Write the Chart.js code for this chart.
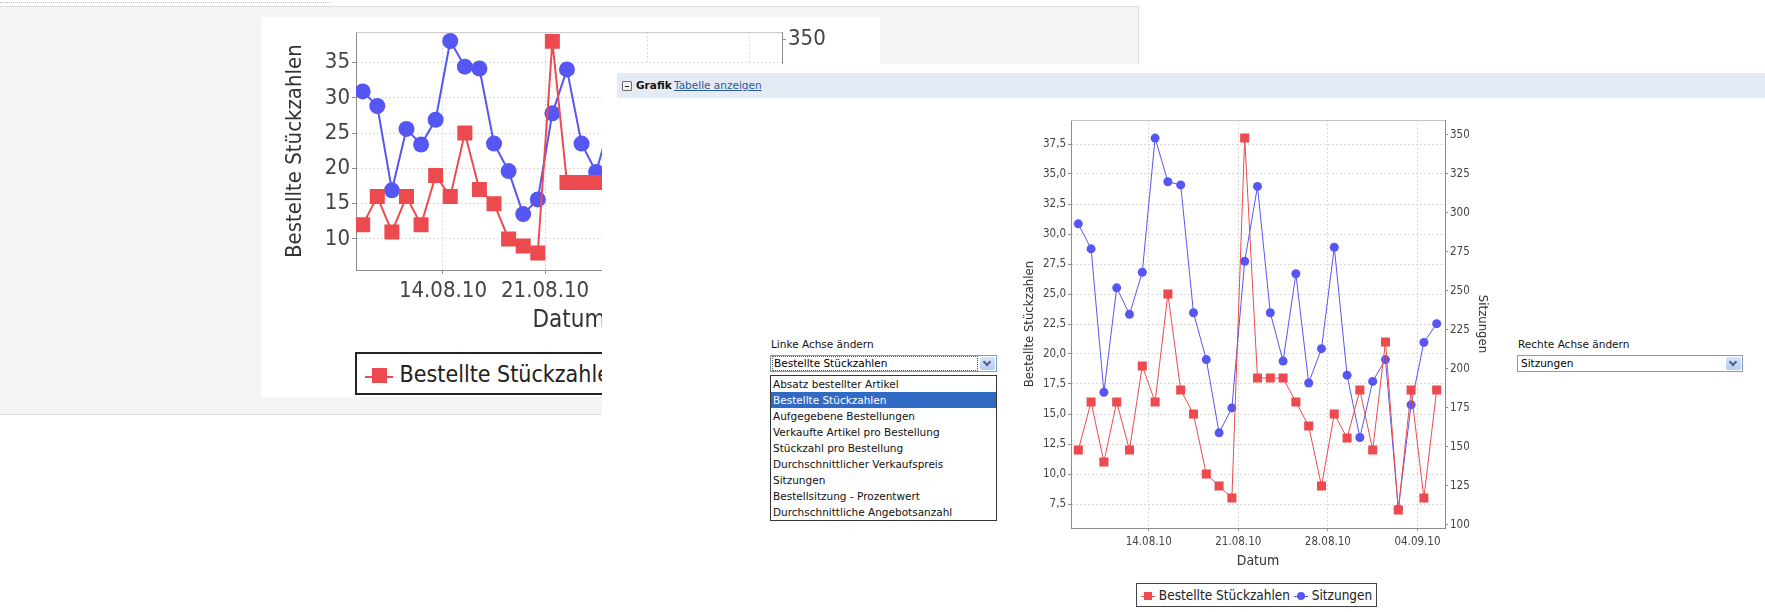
<!DOCTYPE html>
<html>
<head>
<meta charset="utf-8">
<script src="https://cdn.jsdelivr.net/npm/chart.js@4.4.1/dist/chart.umd.min.js"></script>
<style>
  html, body { margin: 0; padding: 0; background: #fff; width: 1765px; height: 612px; overflow: hidden; }
  body { position: relative; font-family: "DejaVu Sans", Verdana, sans-serif; }
  .abs { position: absolute; }
  #toplink { left: 0; top: 0; width: 330px; height: 2px; border-bottom: 1px dotted #a9c3e6; }
  #page { left: 0; top: 6px; width: 1138px; height: 407px; background: #f4f4f4; border: 1px solid #dcdcdc; border-left: none; }
  #bgwhite { left: 261px; top: 17px; width: 619px; height: 380px; background: #fff; }
  #bgCanvas { left: 270px; top: 17px; }
  #overlay { left: 602px; top: 64px; width: 1163px; height: 548px; background: #fff; }
  #header { left: 617px; top: 73px; width: 1148px; height: 25px; background: #e5ebf5; font-size: 10.5px; line-height: 25px; }
  #header .box { position: absolute; left: 5px; top: 8px; width: 8px; height: 8px; border: 1px solid #6d6d6d; border-radius: 1px; background: #f0f0f0; }
  #header .box i { position: absolute; left: 2px; top: 3.5px; width: 4px; height: 1px; background: #222; }
  #header b { position: absolute; left: 19px; color: #111; }
  #header a { position: absolute; left: 57px; color: #2a5a9a; text-decoration: underline; }
  .lbl { font-size: 10.5px; color: #111; }
  .sel { height: 17px; border: 1px solid #7f9db9; background: #fff; font-size: 10.5px; line-height: 17px; box-sizing: border-box; }
  .sel .txt { position: absolute; left: 2px; top: 1px; right: 19px; height: 13px; line-height: 13px; padding-left: 1px; }
  .sel .txt.focus { outline: 1px dotted #555; }
  .sel .btn { position: absolute; right: 1px; top: 1px; width: 15px; height: 13px; background: linear-gradient(#d8e4fb, #b6cbf4); border-radius: 2px; }
  .sel .btn i { position: absolute; left: 4px; top: 2px; width: 4px; height: 4px; border-right: 2px solid #4d6185; border-bottom: 2px solid #4d6185; transform: rotate(45deg); }
  #list { left: 770px; top: 375px; width: 227px; height: 146px; border: 1px solid #333; box-sizing: border-box; background: #fff; font-size: 10.5px; }
  #list div { height: 16px; line-height: 16px; padding-left: 2px; color: #111; white-space: nowrap; }
  #list div.on { background: #316ac5; color: #fff; }
  #mainCanvas { left: 1015px; top: 110px; }
  .legend { border: 1px solid #444; background: #fff; white-space: nowrap; color: #222; box-sizing: border-box;
            font-family: "DejaVu Sans Condensed", "Liberation Sans Narrow", "Liberation Sans", sans-serif; }
  .mk { display: inline-block; position: relative; vertical-align: middle; }
  .mk .ln { position: absolute; left: 0; right: 0; top: 50%; height: 1px; }
  .mk .pt { position: absolute; left: 50%; top: 50%; }
</style>
</head>
<body>
<div id="toplink" class="abs"></div>
<div id="page" class="abs"></div>
<div id="bgwhite" class="abs"></div>
<canvas id="bgCanvas" class="abs" width="572" height="320"></canvas>
<div id="legBg" class="abs legend" style="left:355px;top:352px;height:43px;line-height:41px;font-size:23px;padding:0 8px;border-width:2px;border-color:#222;">
  <span class="mk" style="width:28px;height:16px;"><i class="ln" style="background:#ec4a4e;height:2px;"></i><i class="pt" style="width:15px;height:15px;margin:-7.5px 0 0 -7.5px;background:#ec4a4e;"></i></span>
  Bestellte Stückzahlen
  <span class="mk" style="width:28px;height:16px;"><i class="ln" style="background:#5656f2;height:2px;"></i><i class="pt" style="width:15px;height:15px;margin:-7.5px 0 0 -7.5px;background:#5656f2;border-radius:50%;"></i></span>
  Sitzungen
</div>

<div id="overlay" class="abs"></div>
<div id="header" class="abs"><span class="box"><i></i></span><b>Grafik</b><a>Tabelle anzeigen</a></div>

<div class="abs lbl" style="left:771px;top:338px;">Linke Achse ändern</div>
<div class="abs sel" style="left:770px;top:355px;width:227px;"><span class="txt focus">Bestellte Stückzahlen</span><span class="btn"><i></i></span></div>
<div id="list" class="abs"></div>

<div class="abs lbl" style="left:1518px;top:338px;">Rechte Achse ändern</div>
<div class="abs sel" style="left:1517px;top:355px;width:226px;"><span class="txt">Sitzungen</span><span class="btn"><i></i></span></div>

<canvas id="mainCanvas" class="abs" width="480" height="462"></canvas>
<div id="legMain" class="abs legend" style="left:1136px;top:583px;height:24px;line-height:22px;font-size:13.5px;padding:0 4px;">
  <span class="mk" style="width:14px;height:10px;"><i class="ln" style="background:#ec4a4e;"></i><i class="pt" style="width:8px;height:8px;margin:-4px 0 0 -4px;background:#ec4a4e;"></i></span>
  Bestellte Stückzahlen
  <span class="mk" style="width:14px;height:10px;"><i class="ln" style="background:#5656f2;"></i><i class="pt" style="width:8px;height:8px;margin:-4px 0 0 -4px;background:#5656f2;border-radius:50%;"></i></span>
  Sitzungen
</div>

<script>
// one point per day, 08.08.10 .. 05.09.10
const dayLabels = [
  "08.08.10", "09.08.10", "10.08.10", "11.08.10", "12.08.10", "13.08.10", "14.08.10",
  "15.08.10", "16.08.10", "17.08.10", "18.08.10", "19.08.10", "20.08.10", "21.08.10",
  "22.08.10", "23.08.10", "24.08.10", "25.08.10", "26.08.10", "27.08.10", "28.08.10",
  "29.08.10", "30.08.10", "31.08.10", "01.09.10", "02.09.10", "03.09.10", "04.09.10",
  "05.09.10",
];
const bestellteStueckzahlen = [12, 16, 11, 16, 12, 19, 16, 25, 17, 15, 10, 9, 8, 38, 18, 18, 18, 16, 14, 9, 15, 13, 17, 12, 21, 7, 17, 8, 17];
const sitzungen = [293, 277, 185, 252, 235, 262, 348, 320, 318, 236, 206, 159, 175, 269, 317, 236, 205, 261, 191, 213, 278, 196, 156, 192, 206, 110, 177, 217, 229];

// x axis: days after 08.08.10 00:00, points sit at noon
const xTickDays = [6, 13, 20, 27];
const xTickLabels = ["14.08.10", "21.08.10", "28.08.10", "04.09.10"];

const leftTicksMain = [7.5, 10, 12.5, 15, 17.5, 20, 22.5, 25, 27.5, 30, 32.5, 35, 37.5];
const leftTicksBg = [10, 15, 20, 25, 30, 35];
const rightTicks = [100, 125, 150, 175, 200, 225, 250, 275, 300, 325, 350];

const leftOptions = [
  "Absatz bestellter Artikel",
  "Bestellte Stückzahlen",
  "Aufgegebene Bestellungen",
  "Verkaufte Artikel pro Bestellung",
  "Stückzahl pro Bestellung",
  "Durchschnittlicher Verkaufspreis",
  "Sitzungen",
  "Bestellsitzung - Prozentwert",
  "Durchschnittliche Angebotsanzahl",
];
const selectedLeft = "Bestellte Stückzahlen";

const RED = "#ec4a4e";
const BLUE = "#5656f2";
const FONT = '"DejaVu Sans Condensed", "Liberation Sans Narrow", "Liberation Sans", sans-serif';

document.getElementById("list").innerHTML = leftOptions
  .map((name) => `<div${name === selectedLeft ? ' class="on"' : ""}>${name}</div>`)
  .join("");

function toPoints(values) {
  return values.map((v, i) => ({ x: i + 0.5, y: v }));
}

const plotTopLine = {
  id: "plotTopLine",
  beforeDatasetsDraw(chart) {
    const { ctx, chartArea } = chart;
    ctx.save();
    ctx.strokeStyle = "#c4c4c4";
    ctx.lineWidth = 1;
    ctx.beginPath();
    ctx.moveTo(chartArea.left, chartArea.top + 0.5);
    ctx.lineTo(chartArea.right, chartArea.top + 0.5);
    ctx.stroke();
    ctx.restore();
  },
};

function buildChart(canvasId, o) {
  const gridStyle = { color: "#dadada", tickColor: "#8c8c8c", tickLength: o.tickLength };
  const borderStyle = { display: true, color: "#8c8c8c", width: 1, dash: [2, 2] };
  return new Chart(document.getElementById(canvasId), {
    type: "line",
    data: {
      datasets: [
        {
          label: "Bestellte Stückzahlen",
          data: toPoints(bestellteStueckzahlen),
          yAxisID: "yLeft",
          borderColor: RED,
          backgroundColor: RED,
          pointBackgroundColor: RED,
          borderWidth: o.lineWidth,
          pointStyle: "rect",
          pointRadius: o.rectRadius,
          pointBorderWidth: 0,
          tension: 0,
        },
        {
          label: "Sitzungen",
          data: toPoints(sitzungen),
          yAxisID: "yRight",
          borderColor: BLUE,
          backgroundColor: BLUE,
          pointBackgroundColor: BLUE,
          borderWidth: o.lineWidth,
          pointStyle: "circle",
          pointRadius: o.circleRadius,
          pointBorderWidth: 0,
          tension: 0,
        },
      ],
    },
    options: {
      responsive: false,
      animation: false,
      events: [],
      layout: { padding: { top: o.padTop, left: 0, right: 0, bottom: 0 } },
      plugins: { legend: { display: false }, tooltip: { enabled: false } },
      scales: {
        x: {
          type: "linear",
          min: o.xMin,
          max: o.xMax,
          afterBuildTicks: (s) => { s.ticks = xTickDays.map((v) => ({ value: v })); },
          afterFit: (s) => { s.height = o.xHeight; },
          ticks: {
            autoSkip: false,
            maxRotation: 0,
            color: "#444",
            padding: o.xTickPad,
            font: { family: FONT, size: o.tickFont },
            callback: (v, i) => xTickLabels[i],
          },
          grid: gridStyle,
          border: borderStyle,
          title: {
            display: true,
            text: "Datum",
            color: "#333",
            font: { family: FONT, size: o.titleFont },
            padding: { top: 0, bottom: o.xTitlePad },
          },
        },
        yLeft: {
          type: "linear",
          position: "left",
          min: o.leftMin,
          max: o.leftMax,
          afterBuildTicks: (s) => { s.ticks = o.leftTicks.map((v) => ({ value: v })); },
          afterFit: (s) => { s.width = o.leftWidth; },
          ticks: {
            color: "#444",
            padding: 2,
            font: { family: FONT, size: o.tickFont },
            callback: o.leftFormat,
          },
          grid: gridStyle,
          border: borderStyle,
          title: {
            display: true,
            text: "Bestellte Stückzahlen",
            color: "#333",
            font: { family: FONT, size: o.yTitleFont },
            padding: { top: o.leftTitlePad, bottom: 0 },
          },
        },
        yRight: {
          type: "linear",
          position: "right",
          min: o.rightMin,
          max: o.rightMax,
          afterBuildTicks: (s) => { s.ticks = rightTicks.map((v) => ({ value: v })); },
          afterFit: (s) => { s.width = o.rightWidth; },
          ticks: {
            color: "#444",
            padding: 2,
            font: { family: FONT, size: o.tickFont },
            callback: (v) => String(v),
          },
          grid: { drawOnChartArea: false, tickColor: "#8c8c8c", tickLength: o.tickLength },
          border: { display: true, color: "#8c8c8c", width: 1 },
          title: {
            display: true,
            text: "Sitzungen",
            color: "#333",
            font: { family: FONT, size: o.yTitleFont },
            padding: { top: o.rightTitlePad, bottom: 0 },
          },
        },
      },
    },
    plugins: [plotTopLine],
  });
}

// large chart in the background page
buildChart("bgCanvas", {
  padTop: 13,
  xMin: 0.04, xMax: 29.24,
  xHeight: 67, xTickPad: 4, xTitlePad: 2,
  leftMin: 5.6, leftMax: 39.3, leftTicks: leftTicksBg, leftWidth: 86,
  leftFormat: (v) => String(v),
  rightMin: 98, rightMax: 357.6, rightWidth: 60,
  tickLength: 4, tickFont: 22, titleFont: 24, yTitleFont: 22,
  leftTitlePad: 12, rightTitlePad: 4,
  lineWidth: 2, rectRadius: 10.6, circleRadius: 8,
});

// chart in the front panel
buildChart("mainCanvas", {
  padTop: 10,
  xMin: -0.07, xMax: 29.15,
  xHeight: 44, xTickPad: 4, xTitlePad: 2,
  leftMin: 5.5, leftMax: 39.5, leftTicks: leftTicksMain, leftWidth: 56,
  leftFormat: (v) => v.toFixed(1).replace(".", ","),
  rightMin: 98, rightMax: 359.6, rightWidth: 50,
  tickLength: 3, tickFont: 11.5, titleFont: 14, yTitleFont: 13,
  leftTitlePad: 7, rightTitlePad: 5,
  lineWidth: 1, rectRadius: 6.4, circleRadius: 4.5,
});
</script>
</body>
</html>
